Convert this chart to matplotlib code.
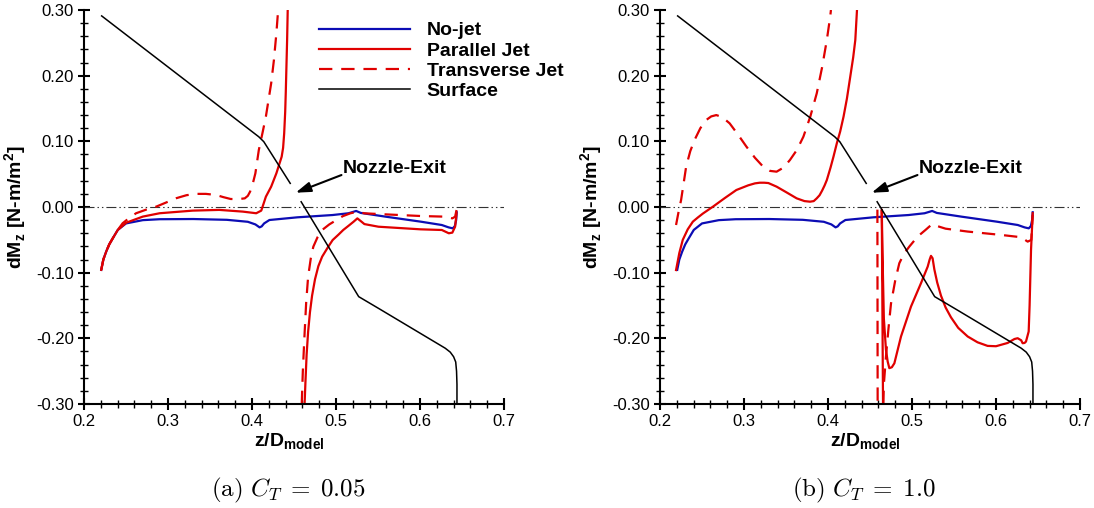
import numpy as np
import matplotlib
matplotlib.use('Agg')
import matplotlib.pyplot as plt
from matplotlib.ticker import MultipleLocator, FormatStrFormatter

plt.rcParams['font.family'] = ['Liberation Sans', 'DejaVu Sans']
plt.rcParams['axes.unicode_minus'] = False

nan = np.nan

# no-jet curve (same in both panels)
nojet_z = [0.2205, 0.2230, 0.2264, 0.2300, 0.2343, 0.2402, 0.2500, 0.2700, 0.2900, 0.3300,
           0.3700, 0.3950, 0.4040, 0.4090, 0.4115, 0.4144, 0.4207, 0.4540, 0.4960, 0.5150,
           0.5240, 0.5295, 0.5590, 0.6008, 0.6259, 0.6340, 0.6390, 0.6415, 0.6430, 0.6437]
nojet_m = [-0.0957, -0.0800, -0.0679, -0.0570, -0.0475, -0.0349, -0.0250, -0.0200, -0.0186, -0.0183,
           -0.0195, -0.0225, -0.0265, -0.0310, -0.0295, -0.0250, -0.0198, -0.0157, -0.0122, -0.0095,
           -0.0060, -0.0090, -0.0147, -0.0223, -0.0274, -0.0310, -0.0325, -0.0290, -0.0200, -0.0080]

# (a) C_T = 0.05
par_a_z = [0.2205, 0.2230, 0.2264, 0.2300, 0.2343, 0.2402, 0.2500, 0.2700, 0.2900, 0.3295,
           0.3610, 0.3890, 0.4050, 0.4110, 0.4135, 0.4165, 0.4228, 0.4290, 0.4353, 0.4370,
           0.4383, 0.4395, 0.4402, 0.4410, 0.4418, 0.4425, nan,
           0.4626, 0.4635, 0.4650, 0.4668, 0.4690, 0.4715, 0.4750, 0.4790, 0.4835, 0.4900,
           0.4960, 0.5030, 0.5086, 0.5150, 0.5210, 0.5254, 0.5300, 0.5338, 0.5505, 0.6008,
           0.6260, 0.6343, 0.6385, 0.6418, 0.6435]
par_a_m = [-0.0957, -0.0800, -0.0679, -0.0570, -0.0475, -0.0349, -0.0240, -0.0146, -0.0095, -0.0055,
           -0.0044, -0.0070, -0.0095, -0.0055, 0.0040, 0.0157, 0.0310, 0.0513, 0.0766, 0.0900,
           0.1122, 0.1450, 0.1750, 0.2150, 0.2550, 0.3000, nan,
           -0.3000, -0.2700, -0.2250, -0.1900, -0.1600, -0.1350, -0.1100, -0.0900, -0.0756, -0.0620,
           -0.0503, -0.0420, -0.0350, -0.0285, -0.0223, -0.0173, -0.0220, -0.0260, -0.0300, -0.0340,
           -0.0350, -0.0400, -0.0390, -0.0300, -0.0096]

tra_a_z = [0.2205, 0.2230, 0.2264, 0.2300, 0.2343, 0.2402, 0.2460, 0.2540, 0.2620, 0.2740,
           0.2860, 0.2980, 0.3098, 0.3220, 0.3336, 0.3450, 0.3570, 0.3660, 0.3746, 0.3840,
           0.3914, 0.3950, 0.3977, 0.4010, 0.4040, 0.4081, 0.4125, 0.4165, 0.4228, 0.4260,
           0.4290, 0.4311, nan,
           0.4592, 0.4605, 0.4626, 0.4645, 0.4668, 0.4700, 0.4730, 0.4780, 0.4835, 0.4920,
           0.5003, 0.5080, 0.5170, 0.5254, 0.5338, 0.5590, 0.6008, 0.6300, 0.6385, 0.6418,
           0.6435]
tra_a_m = [-0.0957, -0.0800, -0.0679, -0.0570, -0.0475, -0.0349, -0.0247, -0.0165, -0.0095, -0.0040,
           0.0006, 0.0070, 0.0134, 0.0180, 0.0200, 0.0200, 0.0184, 0.0150, 0.0122, 0.0120,
           0.0132, 0.0170, 0.0234, 0.0360, 0.0513, 0.0868, 0.1130, 0.1376, 0.1883, 0.2230,
           0.2645, 0.3000, nan,
           -0.3000, -0.2500, -0.1924, -0.1450, -0.1060, -0.0780, -0.0604, -0.0460, -0.0350, -0.0265,
           -0.0200, -0.0140, -0.0096, -0.0071, -0.0096, -0.0112, -0.0137, -0.0147, -0.0173, -0.0147,
           -0.0046]

# (b) C_T = 1.0
par_b_z = [0.2191, 0.2230, 0.2271, 0.2330, 0.2391, 0.2450, 0.2510, 0.2630, 0.2770, 0.2909,
           0.3050, 0.3130, 0.3188, 0.3240, 0.3290, 0.3388, 0.3510, 0.3627, 0.3720, 0.3786,
           0.3830, 0.3866, 0.3900, 0.3930, 0.3960, 0.3986, 0.4030, 0.4065, 0.4105, 0.4145,
           0.4185, 0.4225, 0.4265, 0.4300, 0.4325, 0.4345, nan,
           0.4655, 0.4645, 0.4640, 0.4650, 0.4665, 0.4690, 0.4710, 0.4730, 0.4760, 0.4790,
           0.4869, 0.4988, 0.5107, 0.5187, 0.5210, 0.5226, 0.5245, 0.5266, 0.5300, 0.5345,
           0.5400, 0.5464, 0.5550, 0.5663, 0.5780, 0.5900, 0.6000, 0.6139, 0.6220, 0.6258,
           0.6300, 0.6317, 0.6340, 0.6357, 0.6389, 0.6400, 0.6417, 0.6437]
par_b_m = [-0.0960, -0.0700, -0.0500, -0.0340, -0.0223, -0.0160, -0.0100, 0.0005, 0.0135, 0.0259,
           0.0330, 0.0360, 0.0370, 0.0370, 0.0365, 0.0310, 0.0220, 0.0132, 0.0090, 0.0081,
           0.0090, 0.0132, 0.0180, 0.0250, 0.0330, 0.0411, 0.0600, 0.0766, 0.0970, 0.1150,
           0.1376, 0.1650, 0.1985, 0.2280, 0.2543, 0.3000, nan,
           -0.3000, -0.1000, -0.0040, -0.0800, -0.1700, -0.2175, -0.2350, -0.2454, -0.2440, -0.2380,
           -0.1972, -0.1516, -0.1160, -0.0907, -0.0800, -0.0744, -0.0780, -0.0950, -0.1150, -0.1350,
           -0.1530, -0.1680, -0.1840, -0.1972, -0.2060, -0.2115, -0.2120, -0.2070, -0.2010, -0.1998,
           -0.2030, -0.2074, -0.2070, -0.2049, -0.1896, -0.1500, -0.0653, -0.0095]

tra_b_z = [0.2191, 0.2220, 0.2251, 0.2280, 0.2311, 0.2360, 0.2411, 0.2480, 0.2550, 0.2610,
           0.2670, 0.2740, 0.2829, 0.2930, 0.3029, 0.3130, 0.3228, 0.3310, 0.3388, 0.3470,
           0.3547, 0.3630, 0.3707, 0.3790, 0.3866, 0.3930, 0.3986, 0.4026, 0.4035, nan,
           0.4588, 0.4591, nan,
           0.4659, 0.4665, 0.4690, 0.4720, 0.4750, 0.4800, 0.4849, 0.4905, 0.4968, 0.5067,
           0.5160, 0.5240, 0.5300, 0.5400, 0.5663, 0.6060, 0.6298, 0.6377, 0.6420, 0.6437]
tra_b_m = [-0.0274, -0.0080, 0.0107, 0.0350, 0.0614, 0.0850, 0.1020, 0.1200, 0.1325, 0.1380,
           0.1400, 0.1370, 0.1274, 0.1100, 0.0919, 0.0750, 0.0614, 0.0550, 0.0538, 0.0600,
           0.0716, 0.0870, 0.1071, 0.1380, 0.1731, 0.2130, 0.2543, 0.2898, 0.3000, nan,
           -0.0040, -0.3000, nan,
           -0.3000, -0.2700, -0.2277, -0.1850, -0.1470, -0.1120, -0.0856, -0.0710, -0.0603, -0.0450,
           -0.0350, -0.0260, -0.0290, -0.0330, -0.0374, -0.0425, -0.0460, -0.0527, -0.0502, -0.0120]

# body surface contour
surf_z = [0.221, 0.408, 0.414, 0.4455, nan, 0.4585, 0.527, 0.552, 0.630, 0.636,
          0.640, 0.6425, 0.6435, 0.644, 0.644]
surf_m = [0.291, 0.107, 0.0995, 0.036, nan, 0.008, -0.1365, -0.1554, -0.215, -0.221,
          -0.228, -0.236, -0.250, -0.270, -0.300]

labels = ['No-jet', 'Parallel Jet', 'Transverse Jet', 'Surface']
captions = [r'$\mathrm{(a)}\ C_T\;=\;0.05$', r'$\mathrm{(b)}\ C_T\;=\;1.0$']

blue = '#0c0cb4'
red = '#e00000'

fig = plt.figure(figsize=(10.94, 5.08), dpi=100)
ax1 = fig.add_axes([0.0768, 0.2047, 0.3839, 0.7756])
ax2 = fig.add_axes([0.6033, 0.2047, 0.3839, 0.7756])

panels = [(ax1, par_a_z, par_a_m, tra_a_z, tra_a_m),
          (ax2, par_b_z, par_b_m, tra_b_z, tra_b_m)]

for ax, pz, pm, tz, tm in panels:
    ax.axhline(0, color='#333333', lw=0.8, ls=(0, (9, 2.7, 1.3, 2.7, 1.3, 2.7)))
    ax.plot(nojet_z, nojet_m, color=blue, lw=1.6, label=labels[0])
    ax.plot(pz, pm, color=red, lw=1.6, label=labels[1])
    ax.plot(tz, tm, color=red, lw=1.6, ls=(0, (6, 4)), label=labels[2])
    ax.plot(surf_z, surf_m, color='black', lw=1.1, label=labels[3])

    ax.set_xlim(0.2, 0.7)
    ax.set_ylim(-0.3, 0.3)
    ax.xaxis.set_major_locator(MultipleLocator(0.1))
    ax.xaxis.set_minor_locator(MultipleLocator(0.02))
    ax.yaxis.set_major_locator(MultipleLocator(0.1))
    ax.yaxis.set_minor_locator(MultipleLocator(0.02))
    ax.xaxis.set_major_formatter(FormatStrFormatter('%.1f'))
    ax.yaxis.set_major_formatter(FormatStrFormatter('%.2f'))
    ax.tick_params(which='major', direction='inout', length=8.5, width=1.5,
                   labelsize=12, pad=3)
    ax.tick_params(which='minor', direction='inout', length=5.5, width=1.0)
    ax.spines['top'].set_visible(False)
    ax.spines['right'].set_visible(False)
    ax.spines['left'].set_linewidth(1.5)
    ax.spines['bottom'].set_linewidth(1.5)

    ax.set_xlabel(r'z/D$_{\mathregular{model}}$', fontsize=14, fontweight='bold')
    ax.set_ylabel(r'dM$_{\mathregular{z}}$ [N-m/m$^{\mathregular{2}}$]', fontsize=14,
                  fontweight='bold')
    ax.xaxis.set_label_coords(0.488, -0.07)
    ax.yaxis.set_label_coords(-0.13, 0.5)

    ax.text(0.5086, 0.0589, 'Nozzle-Exit', fontsize=14, fontweight='bold',
            ha='left', va='center')
    ax.annotate('', xy=(0.452, 0.0218), xytext=(0.5065, 0.0487),
                arrowprops=dict(arrowstyle='-|>,head_length=0.9,head_width=0.3',
                                color='black', lw=1.5, shrinkA=0, shrinkB=0))

leg = ax1.legend(loc='upper left', bbox_to_anchor=(0.559, 0.97), frameon=False,
                 borderpad=0, borderaxespad=0, handlelength=4.7, handletextpad=0.85,
                 labelspacing=0.13, prop={'size': 14, 'weight': 'bold'})

fig.text(288 / 1094, 0.035, captions[0], fontsize=18, ha='center', va='center',
         math_fontfamily='cm')
fig.text(864 / 1094, 0.035, captions[1], fontsize=18, ha='center', va='center',
         math_fontfamily='cm')

fig.savefig('out.png', dpi=100)
